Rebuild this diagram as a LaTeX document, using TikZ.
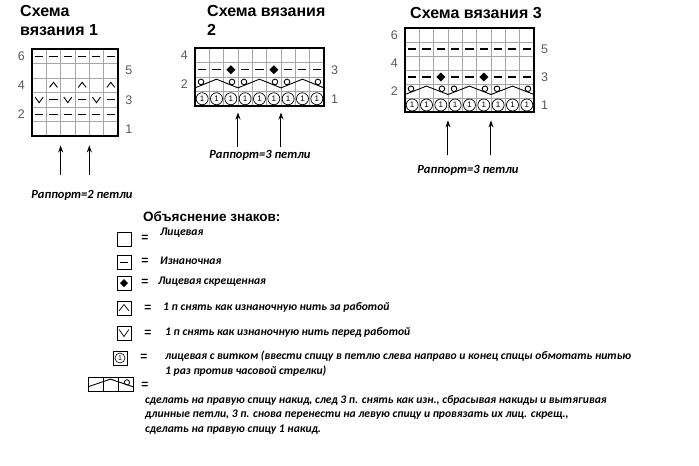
\documentclass[tikz,border=0pt]{standalone}
\usepackage{fontspec}
\setmainfont{Liberation Sans}
\newfontfamily\lgf{Carlito}
\usetikzlibrary{arrows.meta}
\tikzset{
 gridl/.style={draw=gray!70,line width=0.5pt},
 frame/.style={draw=black,line width=1.6pt},
 dsh/.style={line width=1.3pt,line cap=butt},
 sym/.style={line width=0.9pt},
 num/.style={text=black!65,font=\fontsize{12.5}{12}\selectfont,inner sep=0pt},
 ttl/.style={font=\bfseries\fontsize{16}{19}\selectfont,anchor=north west,inner sep=0pt,align=left},
 lg/.style={font=\lgf\bfseries\itshape\fontsize{11.6}{14.8}\selectfont,anchor=west,inner sep=0pt,align=left},
 rap/.style={font=\lgf\bfseries\itshape\fontsize{12.5}{12}\selectfont,inner sep=0pt},
 arr/.style={-{Stealth[length=7pt,width=5pt]},line width=1pt},
 eq/.style={font=\bfseries\fontsize{12}{12}\selectfont,inner sep=0pt},
}
\newcommand{\mygrid}[2]{\foreach \i in {1,...,#1}{\draw[gridl] (\i,0)--(\i,#2);}\foreach \j in {1,...,#2}{\draw[gridl] (0,\j)--(#1,\j);}}
\newcommand{\mydash}[2]{\draw[dsh] (#1-0.78,#2-0.5)--(#1-0.22,#2-0.5);}
\newcommand{\myup}[2]{\draw[sym] (#1-0.78,#2-0.65)--(#1-0.5,#2-0.3)--(#1-0.22,#2-0.65);}
\newcommand{\mydown}[2]{\draw[sym] (#1-0.78,#2-0.32)--(#1-0.5,#2-0.7)--(#1-0.22,#2-0.32);}
\newcommand{\mydia}[2]{\fill (#1-0.5,#2-0.5) ++(0,4.5pt)--++(-4.5pt,-4.5pt)--++(4.5pt,-4.5pt)--++(4.5pt,4.5pt)--cycle;}
\newcommand{\myone}[2]{\node[draw,circle,line width=0.7pt,minimum size=12pt,inner sep=0pt,font=\fontsize{8}{8}\selectfont] at (#1-0.5,#2-0.5) {1};}
\newcommand{\myzig}[1]{\draw[sym] (#1,1.25)--(#1+1.5,1.85)--(#1+3,1.25);
 \draw[line width=0.9pt] (#1+0.42,1.66) circle (2.8pt) (#1+2.58,1.66) circle (2.8pt);}
\begin{document}
\begin{tikzpicture}[x=1pt,y=1pt]
\useasboundingbox[fill=white] (0,0) rectangle (699,-466);
% titles
\node[ttl] (t1) at (20,-5) {Схема\\вязания 1};
\node[ttl] (t2) at (207,-5) {Схема вязания\\2};
\node[ttl] (t3) at (410,-7) {Схема вязания 3};
% chart 1
\begin{scope}[shift={(32,-136)},x=14.33pt,y=14.5pt]
\mygrid{6}{6}
\foreach \c in {1,...,6}{\mydash{\c}{2}\mydash{\c}{6}}
\foreach \c in {1,3,5}{\mydown{\c}{3}}
\foreach \c in {2,4,6}{\mydash{\c}{3}\myup{\c}{4}}
\draw[frame] (0,0) rectangle (6,6);
\foreach \r/\t in {6/6,4/4,2/2}{\node[num] at (-0.75,\r-0.5) {\t};}
\foreach \r/\t in {5/5,3/3,1/1}{\node[num] at (6.75,\r-0.5) {\t};}
\coordinate (a1t) at (2,-0.65); \coordinate (a2t) at (4,-0.65);
\coordinate (a1b) at (2,-2.7); \coordinate (a2b) at (4,-2.7);
\end{scope}
% chart 2
\begin{scope}[shift={(195,-106)},x=14.33pt,y=14.5pt]
\mygrid{9}{4}
\foreach \c in {1,...,9}{\myone{\c}{1}}
\foreach \g in {0,3,6}{\myzig{\g}}
\foreach \c in {1,2,4,5,7,8,9}{\mydash{\c}{3}}
\foreach \c in {3,6}{\mydia{\c}{3}}
\draw[frame] (0,0) rectangle (9,4);
\node[num] at (-0.75,3.5) {4}; \node[num] at (-0.75,1.5) {2};
\node[num] at (9.75,2.5) {3}; \node[num] at (9.75,0.5) {1};
\coordinate (b1t) at (3,-0.45); \coordinate (b2t) at (6,-0.45);
\coordinate (b1b) at (3,-2.8); \coordinate (b2b) at (6,-2.8);
\end{scope}
% chart 3
\begin{scope}[shift={(405,-112)},x=14.33pt,y=14pt]
\mygrid{9}{6}
\foreach \c in {1,...,9}{\myone{\c}{1}\mydash{\c}{5}}
\foreach \g in {0,3,6}{\myzig{\g}}
\foreach \c in {1,2,4,5,7,8,9}{\mydash{\c}{3}}
\foreach \c in {3,6}{\mydia{\c}{3}}
\draw[frame] (0,0) rectangle (9,6);
\foreach \r in {6,4,2}{\node[num] at (-0.75,\r-0.5) {\r};}
\foreach \r in {5,3,1}{\node[num] at (9.75,\r-0.5) {\r};}
\coordinate (c1t) at (3,-0.6); \coordinate (c2t) at (6,-0.6);
\coordinate (c1b) at (3,-3.1); \coordinate (c2b) at (6,-3.1);
\end{scope}
\draw[arr] (a1b)--(a1t); \draw[arr] (a2b)--(a2t);
\draw[arr] (b1b)--(b1t); \draw[arr] (b2b)--(b2t);
\draw[arr] (c1b)--(c1t); \draw[arr] (c2b)--(c2t);
\node[rap] (r1) at (82,-195) {Раппорт=2 петли};
\node[rap] (r2) at (260,-155) {Раппорт=3 петли};
\node[rap] (r3) at (468,-170) {Раппорт=3 петли};
% legend
\node[font=\bfseries\fontsize{13.5}{13}\selectfont,anchor=west,inner sep=0pt] (lt) at (143,-217) {Объяснение знаков:};
\begin{scope}[shift={(117,-246)}]
\draw[line width=0.8pt] (0,0) rectangle (14,14);
\end{scope}
\node[eq] at (145,-238) {=};
\node[lg] at (160,-233) {Лицевая};
\begin{scope}[shift={(117,-269)},x=14pt,y=14pt]
\draw[line width=0.8pt] (0,0) rectangle (1,1); \draw[line width=0.9pt] (0.2,0.5)--(0.8,0.5);
\end{scope}
\node[eq] at (145,-261) {=};
\node[lg] at (160,-261) {Изнаночная};
\begin{scope}[shift={(117,-290)},x=14pt,y=14pt]
\draw[line width=0.8pt] (0,0) rectangle (1,1); \fill (0.5,0.5) ++(0,4pt)--++(-4pt,-4pt)--++(4pt,-4pt)--++(4pt,4pt)--cycle;
\end{scope}
\node[eq] at (145,-282) {=};
\node[lg] at (158,-282) {Лицевая скрещенная};
\begin{scope}[shift={(117,-315)},x=14pt,y=14pt]
\draw[line width=0.8pt] (0,0) rectangle (1,1);
\draw[line width=0.7pt] (0.15,0.3)--(0.5,0.75)--(0.85,0.3);
\end{scope}
\node[eq] at (148,-308) {=};
\node[lg] at (163,-307) {1 п снять как изнаночную нить за работой};
\begin{scope}[shift={(117,-340)},x=14pt,y=14pt]
\draw[line width=0.8pt] (0,0) rectangle (1,1);
\draw[line width=0.7pt] (0.15,0.75)--(0.5,0.25)--(0.85,0.75);
\end{scope}
\node[eq] at (148,-333) {=};
\node[lg] at (165,-332) {1 п снять как изнаночную нить перед работой};
\begin{scope}[shift={(113,-365)},x=14pt,y=14pt]
\draw[line width=0.8pt] (0,0) rectangle (1,1);
\node[draw,circle,line width=0.6pt,minimum size=10pt,inner sep=0pt,font=\fontsize{7}{7}\selectfont] at (0.5,0.5) {1};
\end{scope}
\node[eq] at (144,-357) {=};
\node[lg,anchor=north west] at (165,-351) {лицевая с витком (ввести спицу в петлю слева направо и конец спицы обмотать нитью\\1 раз против часовой стрелки)};
\begin{scope}[shift={(88,-391)},x=15pt,y=14pt]
\draw[line width=0.8pt] (0,0) rectangle (3,1) (1,0)--(1,1) (2,0)--(2,1);
\draw[sym] (0,0.3)--(1.5,0.85)--(3,0.3);
\draw[line width=0.8pt] (2.6,0.62) circle (2.6pt);
\end{scope}
\node[eq] at (145,-385) {=};
\node[lg,anchor=north west] at (145,-395) {сделать на правую спицу накид, след 3 п. снять как изн., сбрасывая накиды и вытягивая\\длинные петли, 3 п. снова перенести на левую спицу и провязать их лиц. скрещ.,\\сделать на правую спицу 1 накид.};
\end{tikzpicture}
\end{document}
